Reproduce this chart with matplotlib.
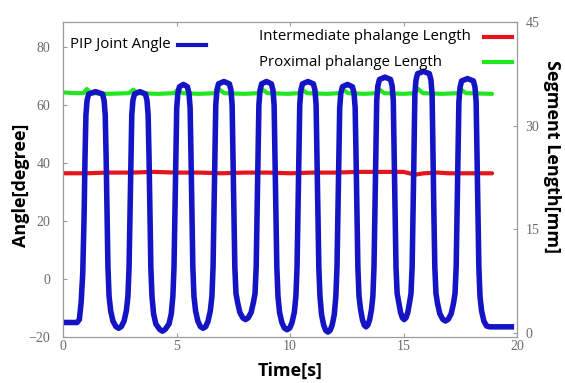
import matplotlib
matplotlib.use("Agg")
import matplotlib.pyplot as plt
from matplotlib.lines import Line2D

# --------------------------------------------------------
# Data
# --------------------------------------------------------

# PIP joint angle [degree] vs time [s] (one line per rise / fall segment)
angle_t = [
    0.00, 0.62, 0.72, 0.80, 0.87, 0.93,
    0.97, 1.01, 1.06, 1.13, 1.435, 1.74, 1.81, 1.86, 1.90, 1.94,
    1.98, 2.03, 2.10, 2.20, 2.33, 2.45, 2.57, 2.69, 2.79, 2.86, 2.91, 2.95,
    2.99, 3.03, 3.08, 3.15, 3.39, 3.63, 3.70, 3.75, 3.79, 3.83,
    3.87, 3.92, 3.99, 4.09, 4.26, 4.38, 4.50, 4.67, 4.77, 4.84, 4.89, 4.93,
    4.97, 5.01, 5.06, 5.13, 5.305, 5.48, 5.55, 5.60, 5.64, 5.68,
    5.72, 5.77, 5.84, 5.94, 6.05, 6.17, 6.29, 6.39, 6.49, 6.56, 6.61, 6.65,
    6.69, 6.73, 6.78, 6.85, 7.09, 7.33, 7.40, 7.45, 7.49, 7.53,
    7.57, 7.62, 7.69, 7.79, 7.92, 8.04, 8.16, 8.29, 8.39, 8.46, 8.51, 8.55,
    8.59, 8.63, 8.68, 8.75, 8.965, 9.18, 9.25, 9.30, 9.34, 9.38,
    9.42, 9.47, 9.54, 9.64, 9.75, 9.87, 9.99, 10.09, 10.19, 10.26, 10.31, 10.35,
    10.39, 10.43, 10.48, 10.55, 10.79, 11.03, 11.10, 11.15, 11.19, 11.23,
    11.27, 11.32, 11.39, 11.48, 11.57, 11.67, 11.77, 11.86, 11.95, 12.02, 12.07, 12.11,
    12.15, 12.19, 12.24, 12.31, 12.53, 12.75, 12.82, 12.87, 12.91, 12.95,
    12.99, 13.04, 13.11, 13.19, 13.27, 13.35, 13.43, 13.51, 13.59, 13.65, 13.70, 13.74,
    13.78, 13.82, 13.87, 13.94, 14.185, 14.43, 14.50, 14.55, 14.59, 14.63,
    14.67, 14.72, 14.79, 14.87, 14.95, 15.03, 15.11, 15.19, 15.27, 15.33, 15.38, 15.42,
    15.46, 15.50, 15.55, 15.62, 15.88, 16.14, 16.21, 16.26, 16.30, 16.34,
    16.38, 16.43, 16.50, 16.60, 16.73, 16.85, 16.97, 17.10, 17.20, 17.27, 17.32, 17.36,
    17.40, 17.44, 17.49, 17.56, 17.82, 18.08, 18.15, 18.20, 18.24, 18.28,
    18.32, 18.37, 18.44, 18.54, 18.66, 18.80, 19.75,
]
angle_v = [
    -15.0, -15.0, -14.0, -8.0, 2.0, 22.0,
    42.0, 56.5, 61.5, 63.7, 64.5, 63.7, 61.5, 56.5, 42.0, 22.0,
    4.0, -6.0, -11.0, -14.5, -16.4, -17.0, -16.4, -14.5, -11.0, -6.0, 4.0, 22.0,
    42.0, 56.5, 61.5, 63.7, 64.5, 63.7, 61.5, 56.5, 42.0, 22.0,
    4.0, -6.0, -12.0, -15.5, -17.4, -18.0, -17.4, -15.5, -12.0, -6.0, 4.0, 22.0,
    42.0, 59.0, 64.0, 66.2, 67.0, 66.2, 64.0, 59.0, 42.0, 22.0,
    4.0, -6.0, -11.0, -14.5, -16.4, -17.0, -16.4, -14.5, -11.0, -6.0, 4.0, 22.0,
    42.0, 60.0, 65.0, 67.2, 68.0, 67.2, 65.0, 60.0, 42.0, 22.0,
    4.0, -5.0, -8.0, -11.5, -13.4, -14.0, -13.4, -11.5, -8.0, -5.0, 4.0, 22.0,
    42.0, 60.0, 65.0, 67.2, 68.0, 67.2, 65.0, 60.0, 42.0, 22.0,
    4.0, -6.0, -11.5, -15.0, -16.9, -17.5, -16.9, -15.0, -11.5, -6.0, 4.0, 22.0,
    42.0, 60.0, 65.0, 67.2, 68.0, 67.2, 65.0, 60.0, 42.0, 22.0,
    4.0, -6.0, -12.3, -15.8, -17.7, -18.3, -17.7, -15.8, -12.3, -6.0, 4.0, 22.0,
    42.0, 59.0, 64.0, 66.2, 67.0, 66.2, 64.0, 59.0, 42.0, 22.0,
    4.0, -6.0, -10.5, -14.0, -15.9, -16.5, -15.9, -14.0, -10.5, -6.0, 4.0, 22.0,
    42.0, 61.5, 66.5, 68.7, 69.5, 68.7, 66.5, 61.5, 42.0, 22.0,
    4.0, -5.0, -8.0, -11.5, -13.4, -14.0, -13.4, -11.5, -8.0, -5.0, 4.0, 22.0,
    42.0, 63.5, 68.5, 70.7, 71.5, 70.7, 68.5, 63.5, 42.0, 22.0,
    4.0, -5.0, -8.5, -12.0, -13.9, -14.5, -13.9, -12.0, -8.5, -5.0, 4.0, 22.0,
    42.0, 61.0, 66.0, 68.2, 69.0, 68.2, 66.0, 61.0, 42.0, 22.0,
    4.0, -6.0, -11.0, -14.5, -16.2, -16.5, -16.5,
]

# Proximal phalange length [mm]
prox_t = [0.0, 0.5, 0.9, 1.05, 1.25, 2.0, 2.9, 3.1, 3.3, 4.2, 4.9, 5.05, 5.25,
          6.0, 6.7, 6.9, 7.1, 8.0, 8.6, 8.8, 9.0, 9.9, 10.4, 10.55, 10.75,
          11.6, 12.2, 12.35, 12.55, 13.3, 13.8, 13.95, 14.15, 15.0, 15.5, 15.65,
          15.85, 16.7, 17.4, 17.55, 17.75, 18.9]
prox_v = [34.8, 34.7, 34.7, 35.3, 34.7, 34.6, 34.7, 35.2, 34.7, 34.6, 34.7, 35.2, 34.7,
          34.6, 34.7, 35.2, 34.7, 34.6, 34.7, 35.2, 34.7, 34.6, 34.7, 35.2, 34.7,
          34.6, 34.7, 35.2, 34.7, 34.6, 34.7, 35.2, 34.7, 34.6, 34.7, 35.3,
          34.7, 34.6, 34.7, 35.2, 34.7, 34.6]

# Intermediate phalange length [mm]
inter_t = [0.0, 1.0, 2.0, 3.0, 4.0, 5.0, 6.0, 7.0, 8.0, 9.0, 10.0, 11.0, 12.0,
           13.0, 14.0, 15.0, 15.5, 15.9, 16.5, 17.0, 18.0, 18.9]
inter_v = [23.1, 23.1, 23.2, 23.2, 23.3, 23.2, 23.2, 23.1, 23.2, 23.2, 23.1, 23.2,
           23.2, 23.3, 23.3, 23.3, 22.9, 23.1, 23.2, 23.1, 23.1, 23.1]

x_ticks = [0, 5, 10, 15, 20]
angle_ticks = [-20, 0, 20, 40, 60, 80]
length_ticks = [0, 15, 30, 45]

BLUE = "#1414c4"
RED = "#e8141c"
GREEN = "#22e622"
GRAY = "#9a9a9a"
TICK_TXT = "#6a6a6a"

# --------------------------------------------------------
# Figure
# --------------------------------------------------------

fig = plt.figure(figsize=(5.65, 3.83), dpi=100)
fig.patch.set_facecolor("white")
ax = fig.add_axes([63 / 565, 1 - 337 / 383, (517 - 63) / 565, (337 - 22) / 383])
ax2 = ax.twinx()

ax.set_zorder(2)
ax.patch.set_visible(False)

# length curves on the right axis
ax2.plot(prox_t, prox_v, color=GREEN, linewidth=3, solid_capstyle="round")
ax2.plot(inter_t, inter_v, color=RED, linewidth=3, solid_capstyle="round")

# joint angle on the left axis
ax.plot(angle_t, angle_v, color=BLUE, linewidth=4, solid_joinstyle="round")

ax.set_xlim(0, 20)
ax.set_ylim(-20, 88.5)
ax2.set_ylim(-0.6, 45)

ax.set_xticks(x_ticks)
ax.set_yticks(angle_ticks)
ax2.set_yticks(length_ticks)

for a in (ax, ax2):
    a.tick_params(labelfontfamily="Liberation Serif", labelsize=10,
                  labelcolor=TICK_TXT)
    for s in a.spines.values():
        s.set_color(GRAY)
        s.set_linewidth(0.8)

ax.tick_params(axis="both", direction="in", length=3, color=GRAY, top=True)
ax.tick_params(axis="y", pad=9)
ax.tick_params(axis="x", pad=2)
ax2.tick_params(axis="y", direction="in", length=3, color=GRAY, pad=6)

# axis titles
label_font = dict(family="Open Sans", size=13, weight="bold", color="black")
fig.text(21 / 565, 1 - 185 / 383, "Angle[degree]", rotation=90,
         ha="center", va="center", **label_font)
fig.text(290 / 565, 1 - 371 / 383, "Time[s]", ha="center", va="center", **label_font)
fig.text(552 / 565, 1 - 157 / 383, "Segment Length[mm]", rotation=-90,
         ha="center", va="center", **label_font)

# hand-placed legend like the original
leg_font = dict(family="Open Sans", size=10.8, color="black", va="center")
fig.text(70 / 565, 1 - 45 / 383, "PIP Joint Angle", ha="left", **leg_font)
fig.text(259 / 565, 1 - 37 / 383, "Intermediate phalange Length", ha="left", **leg_font)
fig.text(259 / 565, 1 - 62 / 383, "Proximal phalange Length", ha="left", **leg_font)

for (x0, x1, yy, col) in [(178, 206, 45, BLUE), (484, 512, 37, RED), (484, 512, 62, GREEN)]:
    fig.add_artist(Line2D([x0 / 565, x1 / 565], [1 - yy / 383, 1 - yy / 383],
                          color=col, linewidth=3, transform=fig.transFigure))

fig.savefig("out.png", dpi=100, facecolor="white")
plt.close(fig)
